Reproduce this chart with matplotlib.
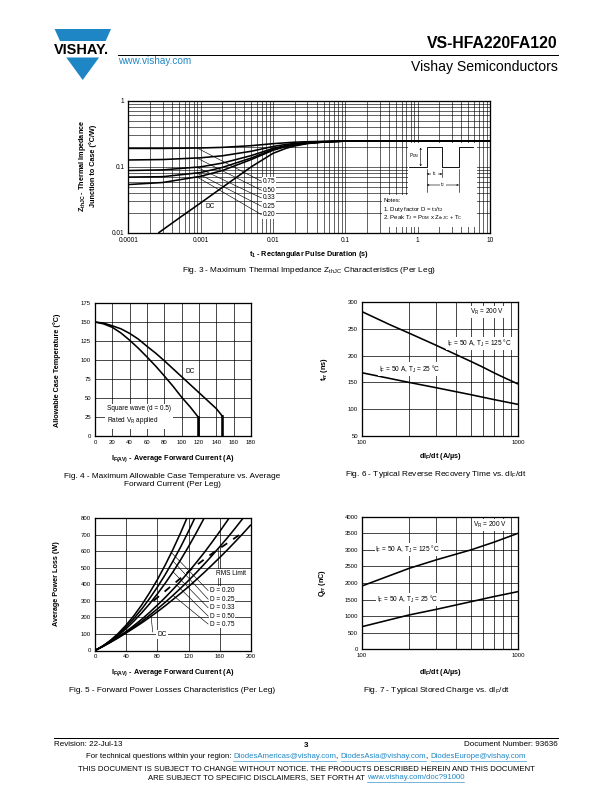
import matplotlib
matplotlib.use('Agg')
import matplotlib.pyplot as plt
from matplotlib.patches import Polygon, Rectangle
from matplotlib.ticker import FixedLocator, NullFormatter

plt.rcParams['font.family'] = ['Liberation Sans', 'DejaVu Sans']
plt.rcParams['mathtext.fontset'] = 'custom'
plt.rcParams['mathtext.rm'] = 'Liberation Sans'
plt.rcParams['mathtext.it'] = 'Liberation Sans:italic'
plt.rcParams['mathtext.bf'] = 'Liberation Sans:bold'

BLUE = '#1f86c6'
W, H = 612, 792

# ---------------- data ----------------
# Fig. 3 - thermal impedance
t_dc = [0.00026, 0.0005, 0.001, 0.002, 0.005, 0.01, 0.015, 0.02, 0.03, 0.05, 0.07, 0.1, 10]
z_dc = [0.01, 0.0167, 0.0285, 0.049, 0.1, 0.16, 0.19, 0.207, 0.225, 0.237, 0.242, 0.245, 0.245]
t_d = [0.0001, 0.0003, 0.001, 0.002, 0.005, 0.01, 0.015, 0.02, 0.03, 0.05, 0.1, 10]
z_d075 = [0.19, 0.19, 0.193, 0.197, 0.209, 0.224, 0.231, 0.236, 0.24, 0.243, 0.245, 0.245]
z_d050 = [0.127, 0.129, 0.137, 0.147, 0.172, 0.203, 0.218, 0.226, 0.234, 0.241, 0.245, 0.245]
z_d033 = [0.088, 0.09, 0.1, 0.114, 0.148, 0.19, 0.209, 0.219, 0.23, 0.239, 0.245, 0.245]
z_d025 = [0.07, 0.071, 0.082, 0.098, 0.136, 0.183, 0.205, 0.216, 0.228, 0.238, 0.245, 0.245]
z_d020 = [0.054, 0.058, 0.072, 0.088, 0.129, 0.178, 0.202, 0.214, 0.227, 0.238, 0.245, 0.245]
duty_labels = ['0.75', '0.50', '0.33', '0.25', '0.20']
duty_label_z = [0.0606, 0.0443, 0.0339, 0.0254, 0.019]
duty_leader_z = [0.192, 0.135, 0.098, 0.080, 0.070]

# Fig. 4 - allowable case temperature
if4_dc = [0, 10, 20, 30, 40, 50, 60, 70, 80, 90, 100, 110, 120, 130, 140, 147]
tc4_dc = [150, 148.5, 145, 141, 135, 127.5, 118, 109, 99, 88.5, 78, 67.5, 57, 46.5, 36, 26]
if4_sq = [0, 10, 20, 30, 40, 50, 60, 70, 80, 90, 100, 110, 119]
tc4_sq = [150, 147.5, 143, 135.5, 126, 115.5, 104, 92, 79, 65.5, 51, 38, 25]

# Fig. 6 - reverse recovery time
didt6_125 = [100, 150, 200, 300, 400, 500, 600, 700, 800, 1000]
trr_125 = [282, 258, 242, 219, 202, 189, 178, 168, 160, 147]
didt6_25 = [100, 200, 300, 500, 700, 1000]
trr_25 = [168, 150, 140, 127, 118, 109]

# Fig. 5 - forward power losses
i_av = [0, 10, 20, 30, 40, 50, 60, 70, 80, 90, 100, 110, 120, 130, 140, 150, 160, 170, 180, 190, 200]
p_d020 = [0, 27, 62, 104, 154, 211, 276, 349, 428, 516, 611, 713, 823]
p_d025 = [0, 27, 59, 98, 143, 194, 251, 314, 383, 458, 540, 627, 721, 820]
p_d033 = [0, 26, 57, 92, 132, 178, 228, 282, 342, 406, 475, 549, 628, 712, 800, 893]
p_d050 = [0, 25, 52, 83, 115, 151, 189, 230, 274, 320, 369, 420, 475, 532, 591, 654, 719, 786, 857]
p_d075 = [0, 25, 51, 79, 110, 142, 176, 213, 251, 291, 333, 377, 423, 471, 521, 573, 627, 682, 740,
          800, 862]
p_dc = [0, 24, 50, 77, 106, 136, 167, 200, 234, 270, 308, 346, 386, 428, 471, 516, 562, 609, 658, 708,
        760]
i_rms = [75, 100, 125, 150, 175, 188]
p_rms = [300, 398, 497, 585, 665, 708]
d5_labels = ['D = 0.20', 'D = 0.25', 'D = 0.33', 'D = 0.50', 'D = 0.75']
d5_label_p = [362, 310, 258, 208, 160]
d5_leader_i = [98, 100, 100, 105, 100]
d5_leader_p = [591, 540, 475, 394, 333]

# Fig. 7 - stored charge
didt7 = [100, 200, 300, 500, 700, 1000]
qrr_125 = [1910, 2440, 2700, 3000, 3230, 3500]
qrr_25 = [683, 1035, 1206, 1437, 1590, 1740]

fig = plt.figure(figsize=(W / 72, H / 72), dpi=72)


def rect(x0, y0, x1, y1):
    return [x0 / W, 1 - y1 / H, (x1 - x0) / W, (y1 - y0) / H]


def style(ax, size=6.5):
    ax.set_axisbelow(True)
    ax.tick_params(which='both', length=0, labelsize=size, pad=4)
    for s in ax.spines.values():
        s.set_linewidth(1.3)


wb = dict(boxstyle='square,pad=0.15', fc='white', ec='none')
CL = dict(color='black', lw=1.6, solid_capstyle='butt', solid_joinstyle='round')

# ---------------- Fig. 3 ----------------
ax3 = fig.add_axes(rect(128.3, 100.7, 490, 233))
ax3.set_xscale('log')
ax3.set_yscale('log')
ax3.set_xlim(1e-4, 10)
ax3.set_ylim(0.01, 1)
ax3.set_xticks([1e-4, 1e-3, 1e-2, 0.1, 1, 10])
ax3.set_xticklabels(['0.0001', '0.001', '0.01', '0.1', '1', '10'])
ax3.set_yticks([0.01, 0.1, 1])
ax3.set_yticklabels(['0.01', '0.1', '1'])
ax3.xaxis.set_minor_formatter(NullFormatter())
ax3.yaxis.set_minor_formatter(NullFormatter())
ax3.grid(True, which='both', color='black', lw=0.6)
style(ax3)
ax3.plot(t_dc, z_dc, **CL)
for z in [z_d075, z_d050, z_d033, z_d025, z_d020]:
    ax3.plot(t_d, z, **CL)
for lab, zl, zs in zip(duty_labels, duty_label_z, duty_leader_z):
    ax3.plot([0.0009, 0.0069], [zs, zl], color='black', lw=0.6)
    ax3.text(0.0072, zl, lab, fontsize=6.5, va='center', ha='left', bbox=wb)
ax3.text(0.00136, 0.0254, 'DC', fontsize=6.5, va='center', ha='center', bbox=wb)

# ---------------- Fig. 4 ----------------
ax4 = fig.add_axes(rect(95, 303, 251, 436))
ax4.set_xlim(0, 180)
ax4.set_ylim(0, 175)
ax4.set_xticks(range(0, 181, 20))
ax4.set_yticks(range(0, 176, 25))
ax4.grid(True, color='black', lw=0.7)
style(ax4, 6)
ax4.plot(if4_dc, tc4_dc, **CL)
ax4.plot(if4_sq, tc4_sq, **CL)
ax4.plot([if4_dc[-1], if4_dc[-1]], [0, tc4_dc[-1]], color='black', lw=2.6)
ax4.plot([if4_sq[-1], if4_sq[-1]], [0, tc4_sq[-1]], color='black', lw=2.6)
ax4.text(110, 85, 'DC', fontsize=6.5, ha='center', va='center', bbox=wb)
ax4.text(14, 27, 'Square wave (d = 0.5)\nRated V$_\\mathrm{R}$ applied', fontsize=6.5,
         ha='left', va='center', linespacing=1.5,
         bbox=dict(boxstyle='square,pad=0.35', fc='white', ec='none'))

# ---------------- Fig. 6 ----------------
ax6 = fig.add_axes(rect(362, 302, 518, 436))
ax6.set_xscale('log')
ax6.set_xlim(100, 1000)
ax6.set_ylim(50, 300)
ax6.set_xticks([100, 1000])
ax6.set_xticklabels(['100', '1000'])
ax6.xaxis.set_minor_locator(FixedLocator([200, 300, 400, 500, 600, 700, 800, 900]))
ax6.xaxis.set_minor_formatter(NullFormatter())
ax6.set_yticks(range(50, 301, 50))
ax6.grid(True, which='both', color='black', lw=0.7)
style(ax6, 6)
ax6.plot(didt6_125, trr_125, **CL)
ax6.plot(didt6_25, trr_25, **CL)
ax6.text(630, 281, 'V$_\\mathrm{R}$ = 200 V', fontsize=6.5, ha='center', va='center', bbox=wb)
ax6.text(570, 223, 'I$_\\mathrm{F}$ = 50 A, T$_\\mathrm{J}$ = 125 °C', fontsize=6.5,
         ha='center', va='center', bbox=wb)
ax6.text(203, 175, 'I$_\\mathrm{F}$ = 50 A, T$_\\mathrm{J}$ = 25 °C', fontsize=6.5,
         ha='center', va='center', bbox=wb)

# ---------------- Fig. 5 ----------------
ax5 = fig.add_axes(rect(95, 518, 251, 650.5))
ax5.set_xlim(0, 200)
ax5.set_ylim(0, 800)
ax5.set_xticks(range(0, 201, 40))
ax5.set_yticks(range(0, 801, 100))
ax5.grid(True, color='black', lw=0.7)
style(ax5, 6)
for p in [p_d020, p_d025, p_d033, p_d050, p_d075, p_dc]:
    ax5.plot(i_av[:len(p)], p, **CL)
ax5.plot(i_rms, p_rms, color='black', lw=1.8, dashes=(4, 4))
for lab, pl, li, lp in zip(d5_labels, d5_label_p, d5_leader_i, d5_leader_p):
    ax5.plot([li, 145], [lp, pl], color='black', lw=0.6)
    ax5.text(147, pl, lab, fontsize=6.5, ha='left', va='center', bbox=wb)
ax5.plot([158, 158], [370, 615], color='black', lw=0.6)
ax5.text(175, 463, 'RMS Limit', fontsize=6.5, ha='center', va='center', bbox=wb)
ax5.plot([74, 72], [112, 200], color='black', lw=0.6)
ax5.text(86, 95, 'DC', fontsize=6.5, ha='center', va='center', bbox=wb)

# ---------------- Fig. 7 ----------------
ax7 = fig.add_axes(rect(362, 516.7, 518, 649.3))
ax7.set_xscale('log')
ax7.set_xlim(100, 1000)
ax7.set_ylim(0, 4000)
ax7.set_xticks([100, 1000])
ax7.set_xticklabels(['100', '1000'])
ax7.xaxis.set_minor_locator(FixedLocator([200, 300, 400, 500, 600, 700, 800, 900]))
ax7.xaxis.set_minor_formatter(NullFormatter())
ax7.set_yticks(range(0, 4001, 500))
ax7.grid(True, which='both', color='black', lw=0.7)
style(ax7, 6)
ax7.plot(didt7, qrr_125, **CL)
ax7.plot(didt7, qrr_25, **CL)
ax7.text(661, 3750, 'V$_\\mathrm{R}$ = 200 V', fontsize=6.5, ha='center', va='center', bbox=wb)
ax7.text(197, 3000, 'I$_\\mathrm{F}$ = 50 A, T$_\\mathrm{J}$ = 125 °C', fontsize=6.5,
         ha='center', va='center', bbox=wb)
ax7.text(197, 1500, 'I$_\\mathrm{F}$ = 50 A, T$_\\mathrm{J}$ = 25 °C', fontsize=6.5,
         ha='center', va='center', bbox=wb)

# ---------------- page overlay (pixel coordinates) ----------------
ov = fig.add_axes([0, 0, 1, 1], zorder=10)
ov.set_xlim(0, W)
ov.set_ylim(H, 0)
ov.axis('off')
ov.patch.set_alpha(0)

# logo
ov.add_patch(Polygon([(54.6, 29), (111, 29), (105.7, 41), (60, 41)], closed=True, fc=BLUE, ec='none'))
ov.add_patch(Polygon([(66.3, 57.5), (99.1, 57.5), (82.7, 80)], closed=True, fc=BLUE, ec='none'))
ov.text(81, 50, 'VISHAY.', fontsize=14.5, fontweight='bold', ha='center', va='center')
ov.plot([118.4, 558], [55.4, 55.4], color='black', lw=1)
ov.text(118.4, 61.5, 'www.vishay.com', fontsize=10, color=BLUE, ha='left', va='center')
ov.text(558, 43.5, 'VS-HFA220FA120', fontsize=15.8, fontweight='bold', ha='right', va='center')
ov.text(558, 66.5, 'Vishay Semiconductors', fontsize=14, ha='right', va='center')

# fig. 3 notes and pulse sketch
ov.add_patch(Rectangle((408, 143), 69, 52, fc='white', ec='none'))
ov.add_patch(Rectangle((381.7, 195), 95, 31.7, fc='white', ec='none'))
ov.plot([409, 426.7, 426.7, 442.3, 442.3, 459, 459, 472.7],
        [166.7, 166.7, 147.3, 147.3, 166.7, 166.7, 147.3, 147.3], color='black', lw=0.9)
ov.annotate('', xy=(420.7, 147.5), xytext=(420.7, 166.5),
            arrowprops=dict(arrowstyle='<->', lw=0.6, mutation_scale=4, shrinkA=0, shrinkB=0))
ov.text(419, 156, 'P$_\\mathrm{DM}$', fontsize=4.5, ha='right', va='center', bbox=wb)
for xx, y0, y1 in [(426.7, 169, 192.3), (442.3, 169, 177), (459, 169, 192.3)]:
    ov.plot([xx, xx], [y0, y1], color='black', lw=0.6)
ov.annotate('', xy=(426.7, 174), xytext=(442.3, 174),
            arrowprops=dict(arrowstyle='<->', lw=0.6, mutation_scale=4, shrinkA=0, shrinkB=0))
ov.annotate('', xy=(426.7, 185), xytext=(459, 185),
            arrowprops=dict(arrowstyle='<->', lw=0.6, mutation_scale=4, shrinkA=0, shrinkB=0))
ov.text(434.5, 174, 't$_\\mathrm{1}$', fontsize=4.5, ha='center', va='center', bbox=wb)
ov.text(442.8, 185, 't$_\\mathrm{2}$', fontsize=4.5, ha='center', va='center', bbox=wb)
ov.text(383, 201, 'Notes:', fontsize=6, ha='left', va='center')
ov.text(383, 209.5, '1. Duty factor D = t$_\\mathrm{1}$/t$_\\mathrm{2}$', fontsize=6, ha='left', va='center')
ov.text(383, 218, '2. Peak T$_\\mathrm{J}$ = P$_\\mathrm{DM}$ x Z$_\\mathrm{thJC}$ + T$_\\mathrm{C}$',
        fontsize=6, ha='left', va='center')

# axis titles and captions
AL = dict(fontsize=7.3, fontweight='bold', ha='center', va='center')
CP = dict(fontsize=8.3, ha='center', va='center')
ov.text(309, 254, 't$_\\mathbf{1}$ - Rectangular Pulse Duration (s)', **AL)
ov.text(87, 166, 'Z$_\\mathbf{thJC}$ - Thermal Impedance\nJunction to Case (°C/W)', rotation=90,
        linespacing=1.2, **AL)
ov.text(309, 271, 'Fig. 3 - Maximum Thermal Impedance Z$_\\mathrm{thJC}$ Characteristics (Per Leg)', **CP)

ov.text(173, 459, 'I$_\\mathbf{F(AV)}$ - Average Forward Current (A)', **AL)
ov.text(57, 370, 'Allowable Case Temperature (°C)', rotation=90, **AL)
ov.text(172, 481, 'Fig. 4 - Maximum Allowable Case Temperature vs. Average\nForward Current (Per Leg)',
        linespacing=1.2, **CP)

ov.text(440, 456, 'dI$_\\mathbf{F}$/dt (A/µs)', **AL)
ov.text(324, 369, 't$_\\mathbf{rr}$ (ns)', rotation=90, **AL)
ov.text(436, 475, 'Fig. 6 - Typical Reverse Recovery Time vs. dI$_\\mathrm{F}$/dt', **CP)

ov.text(173, 673, 'I$_\\mathbf{F(AV)}$ - Average Forward Current (A)', **AL)
ov.text(57, 584, 'Average Power Loss (W)', rotation=90, **AL)
ov.text(172, 690, 'Fig. 5 - Forward Power Losses Characteristics (Per Leg)', **CP)

ov.text(440, 672, 'dI$_\\mathbf{F}$/dt (A/µs)', **AL)
ov.text(323, 583, 'Q$_\\mathbf{rr}$ (nC)', rotation=90, **AL)
ov.text(436, 690, 'Fig. 7 - Typical Stored Charge vs. dI$_\\mathrm{F}$/dt', **CP)

# footer
ov.plot([54, 558], [738, 738], color='black', lw=1)
ov.text(54, 744.5, 'Revision: 22-Jul-13', fontsize=8, ha='left', va='center')
ov.text(306, 745.5, '3', fontsize=8, fontweight='bold', ha='center', va='center')
ov.text(558, 744.5, 'Document Number: 93636', fontsize=8, ha='right', va='center')

renderer = fig.canvas.get_renderer()


def width(s, size):
    t = ov.text(0, 0, s + 'x', fontsize=size)
    t2 = ov.text(0, 0, 'x', fontsize=size)
    w = t.get_window_extent(renderer).width - t2.get_window_extent(renderer).width
    t.remove()
    t2.remove()
    return w


def line_of(parts, xc, y, size):
    full = ''.join(p for p, _ in parts)
    x0 = xc - width(full, size) / 2
    pre = ''
    for s, link in parts:
        x = x0 + width(pre, size) if pre else x0
        ov.text(x, y, s, fontsize=size, color=BLUE if link else 'black', ha='left', va='center')
        if link:
            ov.plot([x, x + width(s, size)], [y + 4, y + 4], color=BLUE, lw=0.6)
        pre += s


line_of([('For technical questions within your region: ', False), ('DiodesAmericas@vishay.com', True),
         (', ', False), ('DiodesAsia@vishay.com', True), (', ', False),
         ('DiodesEurope@vishay.com', True)], 306, 757, 7.8)
ov.text(306, 769.5, 'THIS DOCUMENT IS SUBJECT TO CHANGE WITHOUT NOTICE. THE PRODUCTS DESCRIBED HEREIN '
        'AND THIS DOCUMENT', fontsize=7.7, ha='center', va='center')
line_of([('ARE SUBJECT TO SPECIFIC DISCLAIMERS, SET FORTH AT ', False),
         ('www.vishay.com/doc?91000', True)], 306, 777.5, 7.7)

fig.savefig('out.png', dpi=72)
